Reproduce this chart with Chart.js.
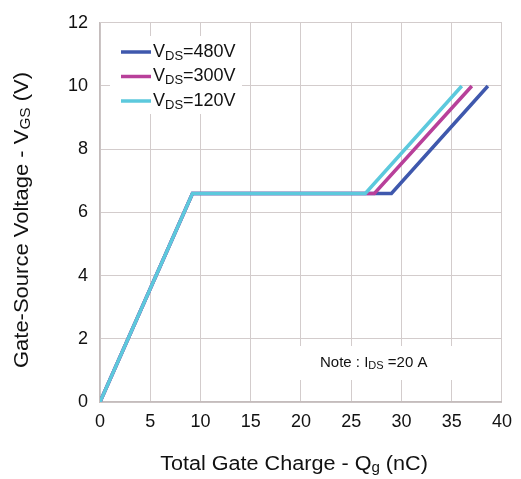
<!DOCTYPE html>
<html>
<head>
<meta charset="utf-8">
<script src="https://cdn.jsdelivr.net/npm/chart.js@4/dist/chart.umd.min.js"></script>
<style>
  html, body { margin: 0; padding: 0; background: #fff; }
  #wrap { width: 521px; height: 479px; }
</style>
</head>
<body>
<div id="wrap"><canvas id="c" width="521" height="479"></canvas></div>
<script>
// gate charge curves, Qg (nC) vs VGS (V)
const vds480 = [ {x:0, y:0}, {x:9.2, y:6.6}, {x:29.0, y:6.6}, {x:38.6, y:10} ]
const vds300 = [ {x:0, y:0}, {x:9.2, y:6.6}, {x:27.3, y:6.6}, {x:37.0, y:10} ]
const vds120 = [ {x:0, y:0}, {x:9.2, y:6.6}, {x:26.4, y:6.6}, {x:36.0, y:10} ]

const seriesNames  = [ ['V','DS','=480V'], ['V','DS','=300V'], ['V','DS','=120V'] ]
const seriesColors = [ '#3f58ad', '#b8409a', '#5cc9dd' ]
const noteText     = ['Note : I','DS',' =20 A']
const xTitle       = ['Total Gate Charge - Q','g',' (nC)']
const yTitle       = ['Gate-Source Voltage - V','GS',' (V)']

const FONT = '"Liberation Sans", Arial, sans-serif'


// draws text with a subscript part: [main, sub, rest]
function subText(ctx, parts, x, y, size){
      ctx.font = size + 'px ' + FONT
      ctx.fillText(parts[0], x, y)
      x += ctx.measureText(parts[0]).width
      ctx.font = Math.round(size*0.72) + 'px ' + FONT
      ctx.fillText(parts[1], x, y + size*0.22)
      x += ctx.measureText(parts[1]).width
      ctx.font = size + 'px ' + FONT
      ctx.fillText(parts[2], x, y)
}

function subWidth(ctx, parts, size){
      ctx.font = size + 'px ' + FONT
      let w = ctx.measureText(parts[0]).width + ctx.measureText(parts[2]).width
      ctx.font = Math.round(size*0.72) + 'px ' + FONT
      return w + ctx.measureText(parts[1]).width
}


const extras = {
      id: 'extras',
      beforeDatasetsDraw(chart){
            const ctx = chart.ctx
            ctx.save()
            // white boxes behind legend and note (they hide the grid)
            ctx.fillStyle = '#fff'
            ctx.fillRect(110, 36, 132, 78)
            ctx.fillRect(300, 346, 170, 34)
            ctx.restore()
      },
      afterDatasetsDraw(chart){
            const ctx = chart.ctx
            ctx.save()
            ctx.fillStyle = '#111'
            ctx.textBaseline = 'middle'

            // legend
            for( let i=0; i<seriesNames.length; i++ ){
                  const y = 52 + i*24.5
                  ctx.strokeStyle = seriesColors[i]
                  ctx.lineWidth = 3.5
                  ctx.beginPath(); ctx.moveTo(121, y); ctx.lineTo(151, y); ctx.stroke()
                  ctx.fillStyle = '#111'
                  subText(ctx, seriesNames[i], 153, y, 18)
            }

            // note
            subText(ctx, noteText, 320, 363, 15)

            // x title
            ctx.save()
            ctx.translate(294, 464)
            ctx.scale(1.08, 1)
            const xw = subWidth(ctx, xTitle, 20)
            subText(ctx, xTitle, -xw/2, 0, 20)
            ctx.restore()

            // y title
            ctx.save()
            ctx.translate(22, 220)
            ctx.rotate(-Math.PI/2)
            ctx.scale(1.1, 1)
            const yw = subWidth(ctx, yTitle, 20)
            subText(ctx, yTitle, -yw/2, 0, 20)
            ctx.restore()

            ctx.restore()
      }
}


// cyan on top, blue underneath
const datasets = [vds480, vds300, vds120].map((d, i) => ({
      label: seriesNames[i].join(''),
      data: d,
      borderColor: seriesColors[i],
      backgroundColor: seriesColors[i],
      borderWidth: 3.5,
      pointRadius: 0,
      tension: 0,
      fill: false,
      order: 2 - i,
}))

const setup = {
      type: 'line',
      data: { datasets },
      options: {
            responsive: false,
            animation: false,
            layout: { padding: { left: 0, right: 18, top: 19, bottom: 0 } },
            plugins: {
                  legend:  { display: false },
                  tooltip: { enabled: false },
            },
            scales: {
                  x: {
                        type: 'linear', min: 0, max: 40,
                        ticks: { stepSize: 5, color: '#111', padding: 9, font: { family: FONT, size: 18 } },
                        grid:  { color: '#d3cccc', lineWidth: 1, drawTicks: false },
                        border:{ color: '#c4bcbc', width: 1.5 },
                        afterFit: (s) => { s.height = 77 },
                  },
                  y: {
                        type: 'linear', min: 0, max: 12,
                        ticks: { stepSize: 2, color: '#111', padding: 12, font: { family: FONT, size: 18 } },
                        grid:  { color: '#d3cccc', lineWidth: 1, drawTicks: false },
                        border:{ color: '#c4bcbc', width: 1.5 },
                        afterFit: (s) => { s.width = 100 },
                  }
            }
      },
      plugins: [extras]
}

new Chart(document.getElementById('c'), setup)
</script>
</body>
</html>
